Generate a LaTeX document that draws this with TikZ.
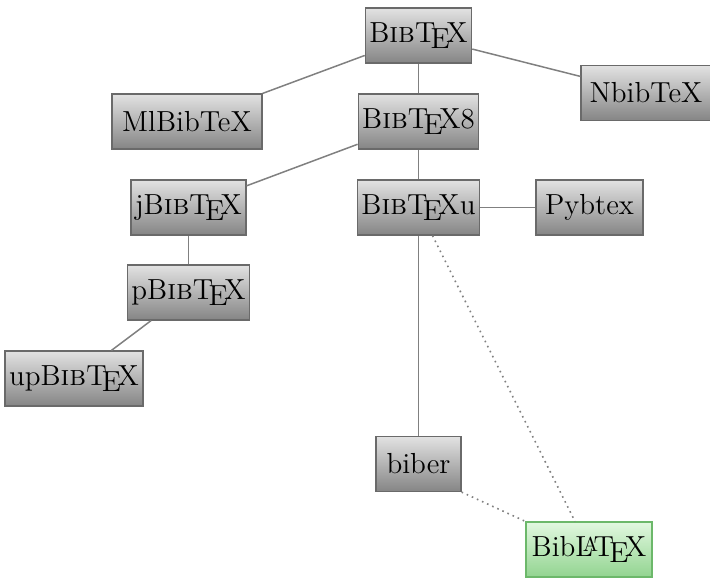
\documentclass[tikz,border=0pt]{standalone}
\usepackage{fontspec}
\definecolor{boxtop}{HTML}{E2E2E2}
\definecolor{boxbot}{HTML}{858585}
\definecolor{boxline}{HTML}{6A6A6A}
\definecolor{edgecol}{HTML}{808080}
\definecolor{gtop}{HTML}{E2F8E0}
\definecolor{gbot}{HTML}{92D490}
\definecolor{gline}{HTML}{6CB86A}
\newcommand{\bibtexlogo}{B\textsc{ib}\TeX}
\tikzset{
  prog/.style={draw=boxline, line width=0.6pt, top color=boxtop, bottom color=boxbot,
    minimum height=27.5pt, inner sep=2pt, font=\fontsize{14.5}{17}\selectfont},
  target/.style={prog, draw=gline, top color=gtop, bottom color=gbot},
  edge/.style={draw=edgecol, line width=0.75pt},
  weak/.style={draw=edgecol, line width=0.8pt, dotted}
}
\begin{document}
\begin{tikzpicture}[x=0.5pt,y=-0.5pt]
\useasboundingbox (0,0) rectangle (710,577);
\clip (0,0) rectangle (710,577);
\node[prog, minimum width=50.5pt] (bibtex) at (418.5,35.5) {\bibtexlogo};
\node[prog, minimum width=75pt] (ml) at (187,121.5) {MlBibTeX};
\node[prog, minimum width=56.5pt] (b8) at (418.5,121.5) {\bibtexlogo8};
\node[prog, minimum width=65pt] (nbib) at (646,93) {NbibTeX};
\node[prog, minimum width=53.5pt] (jb) at (188.5,207.5) {j\bibtexlogo};
\node[prog, minimum width=56.5pt] (bu) at (418.5,207.5) {\bibtexlogo u};
\node[prog, minimum width=53.5pt] (py) at (589.5,207.5) {Pybtex};
\node[prog, minimum width=58.5pt] (pb) at (188.5,292.5) {p\bibtexlogo};
\node[prog, minimum width=66pt] (up) at (74,378.5) {up\bibtexlogo};
\node[prog, minimum width=42.5pt] (biber) at (418.5,464) {biber};
\node[target, minimum width=63pt] (biblatex) at (589,549.5) {Bib\LaTeX};
\draw[edge] (bibtex) -- (ml);
\draw[edge] (bibtex) -- (b8);
\draw[edge] (bibtex) -- (nbib);
\draw[edge] (b8) -- (jb);
\draw[edge] (b8) -- (bu);
\draw[edge] (bu) -- (py);
\draw[edge] (bu) -- (biber);
\draw[edge] (jb) -- (pb);
\draw[edge] (pb) -- (up);
\draw[weak] (bu) -- (biblatex);
\draw[weak] (biber.south east) -- (biblatex.north west);
\end{tikzpicture}
\end{document}
